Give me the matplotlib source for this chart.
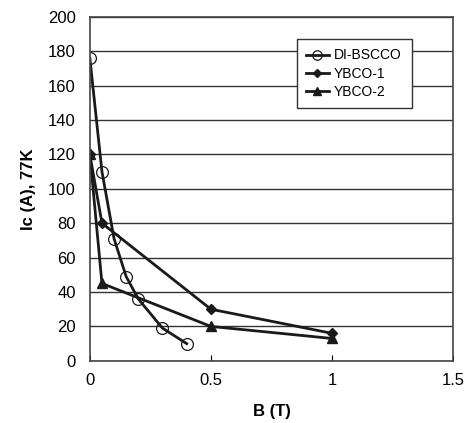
import matplotlib.pyplot as plt
import numpy as np

plt.rcParams['font.family'] = ['Liberation Sans', 'DejaVu Sans']

# field (T) vs critical current (A) at 77K
b_bscco = [0, 0.05, 0.1, 0.15, 0.2, 0.3, 0.4]
ic_bscco = [176, 110, 71, 49, 36, 19, 10]
b_ybco1 = [0, 0.05, 0.5, 1.0]
ic_ybco1 = [120, 80, 30, 16]
b_ybco2 = [0, 0.05, 0.5, 1.0]
ic_ybco2 = [120, 45, 20, 13]

xticks = [0, 0.5, 1, 1.5]
xticklabels = ['0', '0.5', '1', '1.5']
yticks = np.arange(0, 201, 20)

fig = plt.figure(figsize=(4.68, 4.23), dpi=100)
ax = fig.add_axes([0.192, 0.147, 0.776, 0.813])

ax.plot(b_bscco, ic_bscco, color='#1a1a1a', linewidth=2.0, marker='o', markersize=8.5,
        markerfacecolor='none', markeredgecolor='#1a1a1a', markeredgewidth=0.9, label='DI-BSCCO')
ax.plot(b_ybco1, ic_ybco1, color='#1a1a1a', linewidth=2.0, marker='D', markersize=5.5,
        label='YBCO-1')
ax.plot(b_ybco2, ic_ybco2, color='#1a1a1a', linewidth=2.0, marker='^', markersize=7,
        label='YBCO-2')

ax.set_xlim(0, 1.5)
ax.set_ylim(0, 200)
ax.set_xticks(xticks)
ax.set_xticklabels(xticklabels)
ax.set_yticks(yticks)
ax.yaxis.grid(True, color='#333333', linewidth=1.0)
ax.set_axisbelow(True)
ax.tick_params(axis='x', direction='in', length=4, width=0.8, labelsize=12, pad=9)
ax.tick_params(axis='y', length=0, labelsize=12, pad=10)
for s in ax.spines.values():
    s.set_color('#444444')
    s.set_linewidth(1.2)

ax.set_xlabel('B (T)', fontsize=12, fontweight='bold', labelpad=11)
ax.set_ylabel('Ic (A), 77K', fontsize=12, fontweight='bold', labelpad=9)

leg = ax.legend(loc='upper right', bbox_to_anchor=(0.905, 0.957), fontsize=10,
                frameon=True, fancybox=False, edgecolor='#333333', framealpha=1,
                handlelength=1.6, handletextpad=0.4, borderpad=0.7, labelspacing=0.3,
                markerscale=0.8)
leg.get_frame().set_linewidth(1.0)

fig.savefig('out.png', dpi=100)
